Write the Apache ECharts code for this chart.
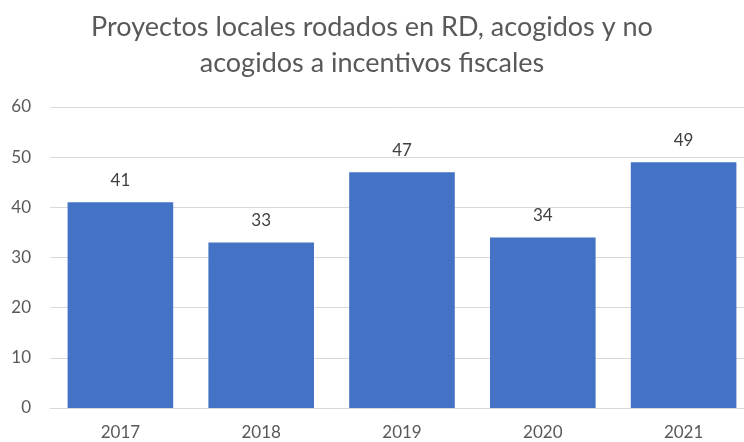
<!DOCTYPE html>
<html>
<head>
<meta charset="utf-8">
<script src="https://cdn.jsdelivr.net/npm/echarts@6/dist/echarts.min.js"></script>
<style>
  html, body { margin: 0; padding: 0; background: #fff; }
  #chart { width: 744px; height: 442px; }
</style>
</head>
<body>
<div id="chart"></div>
<script>
// datos del gráfico
const years = ["2017", "2018", "2019", "2020", "2021"];
const proyectos = [41, 33, 47, 34, 49];
const titleText = "Proyectos locales rodados en RD, acogidos y no\nacogidos a incentivos fiscales";

const myChart = echarts.init(document.getElementById("chart"));

const option = {
  animation: false,
  textStyle: { fontFamily: "Lato, 'Noto Sans', sans-serif" },
  title: {
    text: titleText,
    left: "center",
    top: 4,
    textStyle: {
      fontSize: 27,
      fontWeight: "normal",
      color: "#595959",
      lineHeight: 36
    }
  },
  grid: {
    left: 50,
    right: -10,
    top: 107,
    bottom: 34,
    outerBoundsMode: "none"
  },
  xAxis: {
    type: "category",
    data: years,
    axisTick: { show: false },
    axisLine: { lineStyle: { color: "#d9d9d9", width: 1 } },
    axisLabel: { color: "#595959", fontSize: 17, margin: 16 }
  },
  yAxis: {
    type: "value",
    min: 0,
    max: 60,
    interval: 10,
    axisLine: { show: false },
    axisTick: { show: false },
    axisLabel: { color: "#595959", fontSize: 17, margin: 19 },
    splitLine: { lineStyle: { color: "#d9d9d9", width: 1 } }
  },
  series: [
    {
      type: "bar",
      data: proyectos,
      barCategoryGap: "25%",
      itemStyle: { color: "#4472c4" },
      label: {
        show: true,
        position: "top",
        distance: 13,
        color: "#404040",
        fontSize: 17
      }
    }
  ]
};

myChart.setOption(option);
</script>
</body>
</html>
